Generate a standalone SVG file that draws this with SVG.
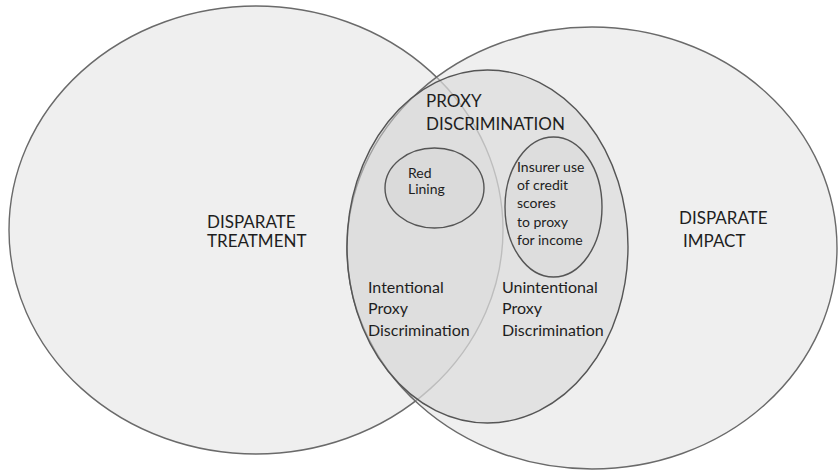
<svg xmlns="http://www.w3.org/2000/svg" width="839" height="471" viewBox="0 0 839 471">
<style>
text{font-family:Lato,"Liberation Sans",sans-serif;fill:#1e1e1e}
.big{font-size:17px}
.mid{font-size:16px}
.sm{font-size:14px}
.outer{stroke:#6a6a6a;stroke-width:1.4}
.inner{stroke:#555;stroke-width:1.4}
</style>
<rect width="839" height="471" fill="#fff"/>
<g id="disparate-treatment">
<ellipse class="outer" cx="256" cy="230" rx="247" ry="224" fill="#efefef"/>
<text class="big" x="207" y="228">DISPARATE</text>
<text class="big" x="207" y="247">TREATMENT</text>
</g>
<g id="disparate-impact">
<ellipse class="outer" cx="592" cy="248" rx="245" ry="221" fill="#dfdfdf" fill-opacity="0.5"/>
<text class="big" x="679" y="224">DISPARATE</text>
<text class="big" x="683" y="247">IMPACT</text>
</g>
<g id="proxy-discrimination">
<ellipse class="inner" cx="487.5" cy="246.5" rx="140.5" ry="176.5" fill="#d5d5d5" fill-opacity="0.5"/>
<text class="big" x="426" y="107">PROXY</text>
<text class="big" x="426" y="130">DISCRIMINATION</text>
<text class="mid" x="368" y="293">Intentional</text>
<text class="mid" x="368" y="314">Proxy</text>
<text class="mid" x="368" y="336">Discrimination</text>
<text class="mid" x="502" y="293">Unintentional</text>
<text class="mid" x="502" y="314">Proxy</text>
<text class="mid" x="502" y="336">Discrimination</text>
</g>
<g id="red-lining">
<ellipse class="inner" cx="434.5" cy="188" rx="49.5" ry="40" fill="#d0d0d0" fill-opacity="0.3"/>
<text class="sm" x="408" y="178">Red</text>
<text class="sm" x="408" y="194">Lining</text>
</g>
<g id="credit-scores">
<ellipse class="inner" cx="553.5" cy="207" rx="48.5" ry="70" fill="#d0d0d0" fill-opacity="0.3"/>
<text class="sm" x="517" y="172">Insurer use</text>
<text class="sm" x="517" y="190">of credit</text>
<text class="sm" x="517" y="208">scores</text>
<text class="sm" x="517" y="227">to proxy</text>
<text class="sm" x="517" y="245">for income</text>
</g>
<g id="connectors"/>
</svg>
